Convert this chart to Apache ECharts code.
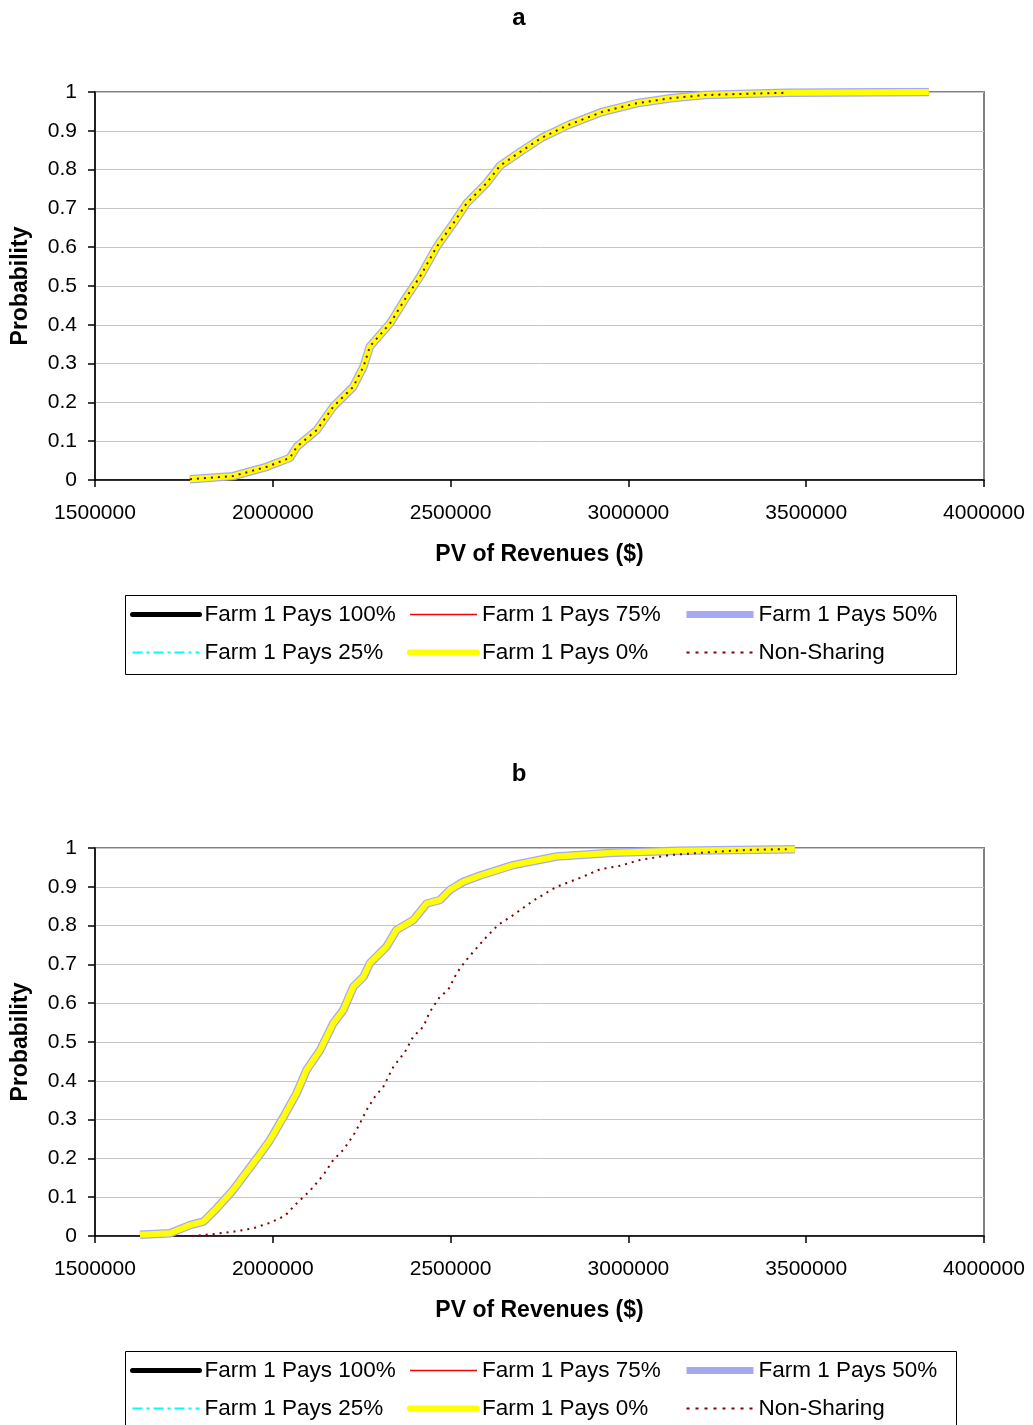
<!DOCTYPE html>
<html>
<head>
<meta charset="utf-8">
<script src="https://cdn.jsdelivr.net/npm/echarts@6/dist/echarts.min.js"></script>
<style>
  html, body { margin: 0; padding: 0; background: #fff; }
  #chart { width: 1033px; height: 1425px; }
</style>
</head>
<body>
<div id="chart"></div>
<script>
// Scenario names (legend order)
const seriesNames = ['Farm 1 Pays 100%', 'Farm 1 Pays 75%', 'Farm 1 Pays 50%',
                     'Farm 1 Pays 25%', 'Farm 1 Pays 0%', 'Non-Sharing'];
const panelTitles = ['a', 'b'];

// Axis ranges
const revenueMin = 1500000, revenueMax = 4000000, revenueStep = 500000;
const probMin = 0, probMax = 1, probStep = 0.1;

// Panel a: cumulative distribution of PV of revenues (sharing scenarios)
const sharingRevA = [1767000, 1888000, 1983000, 2048000, 2068000, 2124000, 2170000, 2226000,
  2255000, 2273000, 2330000, 2376000, 2414000, 2461000, 2508000, 2545000, 2601000, 2639000,
  2696500, 2754000, 2831000, 2927000, 3023000, 3119000, 3215000, 3311000, 3446000, 3845000];
const sharingProbA = [0.002, 0.010, 0.034, 0.057, 0.086, 0.129, 0.189, 0.240,
  0.292, 0.344, 0.404, 0.472, 0.524, 0.601, 0.662, 0.713, 0.765, 0.810,
  0.846, 0.881, 0.915, 0.949, 0.971, 0.984, 0.992, 0.995, 0.998, 1.000];

// Panel a: non-sharing
const nonSharingRevA = [1767000, 1888000, 1983000, 2048000, 2068000, 2124000, 2170000, 2226000,
  2255000, 2273000, 2330000, 2376000, 2414000, 2461000, 2508000, 2545000, 2601000, 2639000,
  2696500, 2754000, 2831000, 2927000, 3023000, 3119000, 3215000, 3311000, 3446000];
const nonSharingProbA = [0.002, 0.010, 0.034, 0.057, 0.086, 0.129, 0.189, 0.240,
  0.292, 0.344, 0.404, 0.472, 0.524, 0.601, 0.662, 0.713, 0.765, 0.810,
  0.846, 0.881, 0.915, 0.949, 0.971, 0.984, 0.992, 0.995, 0.998];

// Panel b: sharing scenarios
const sharingRevB = [1626500, 1711000, 1767000, 1805000, 1842000, 1889000, 1955000, 1992000,
  2030000, 2067000, 2095000, 2133000, 2170000, 2198000, 2227000, 2255000, 2273000, 2320000,
  2348000, 2395000, 2433000, 2470000, 2498000, 2536000, 2583000, 2676000, 2798000, 2958000,
  3145000, 3468000];
const sharingProbB = [0.003, 0.007, 0.028, 0.037, 0.071, 0.119, 0.200, 0.247,
  0.307, 0.368, 0.428, 0.479, 0.548, 0.582, 0.643, 0.668, 0.703, 0.746,
  0.789, 0.814, 0.857, 0.866, 0.892, 0.913, 0.929, 0.956, 0.978, 0.988,
  0.993, 0.997];

// Panel b: non-sharing
const nonSharingRevB = [1772000, 1833000, 1889000, 1945000, 1992000, 2034000, 2067000, 2105000,
  2142000, 2170000, 2198000, 2227000, 2245000, 2264000, 2287000, 2311000, 2339000, 2372000,
  2395000, 2423000, 2442000, 2470000, 2493000, 2517000, 2540000, 2573000, 2601000, 2634000,
  2676000, 2732000, 2798000, 2864000, 2920000, 2976000, 3032000, 3117000, 3239000, 3333000,
  3445000];
const nonSharingProbB = [0.000, 0.005, 0.011, 0.020, 0.034, 0.052, 0.084, 0.117,
  0.157, 0.196, 0.222, 0.260, 0.290, 0.325, 0.359, 0.385, 0.436, 0.475,
  0.514, 0.539, 0.578, 0.617, 0.634, 0.677, 0.707, 0.742, 0.771, 0.802,
  0.827, 0.864, 0.900, 0.923, 0.945, 0.954, 0.969, 0.982, 0.990, 0.995,
  0.997];

const panels = [
  { sharing: [sharingRevA, sharingProbA], nonSharing: [nonSharingRevA, nonSharingProbA] },
  { sharing: [sharingRevB, sharingProbB], nonSharing: [nonSharingRevB, nonSharingProbB] }
];

const FONT = "'Liberation Sans', Arial, sans-serif";
const PANEL_OFFSET = 756;

// Line appearance per scenario, in drawing order
const lineStyles = [
  { color: '#000000', width: 4.5, type: 'solid' },
  { color: '#ff0000', width: 1.5, type: 'solid' },
  { color: '#a8a8f2', width: 8.5, type: 'solid' },
  { color: '#00ffff', width: 1.5, type: [9, 3, 2, 3] },
  { color: '#ffff00', width: 6, type: 'solid' },
  { color: '#800000', width: 2, type: [2, 5] }
];
// Legend swatch strokes
const legendStrokes = [
  { color: '#000000', width: 5, type: 'solid', cap: 'round' },
  { color: '#ff0000', width: 1.5, type: 'solid' },
  { color: '#a8a8f2', width: 7, type: 'solid' },
  { color: '#00ffff', width: 2, type: [10, 4, 3, 4] },
  { color: '#ffff00', width: 6, type: 'solid', cap: 'round' },
  { color: '#800000', width: 2, type: [3, 6] }
];

function pairs(xs, ys) { return xs.map((x, i) => [x, ys[i]]); }

const grids = [], xAxes = [], yAxes = [], series = [], titles = [], legends = [], graphics = [];

panels.forEach((p, k) => {
  const off = k * PANEL_OFFSET;
  grids.push({
    left: 95, top: 92 + off, width: 889, height: 388,
    show: true, borderColor: '#808080', borderWidth: 2, backgroundColor: '#fff'
  });
  xAxes.push({
    gridIndex: k, type: 'value', min: revenueMin, max: revenueMax, interval: revenueStep,
    name: 'PV of Revenues ($)', nameLocation: 'middle', nameGap: 63,
    nameTextStyle: { fontFamily: FONT, fontSize: 23, fontWeight: 'bold', color: '#000' },
    axisLine: { show: true, lineStyle: { color: '#000', width: 1.5 } },
    axisTick: { show: true, inside: false, length: 7, lineStyle: { color: '#000', width: 1.5 } },
    axisLabel: { fontFamily: FONT, fontSize: 21, color: '#000', margin: 23,
                 formatter: v => String(v) },
    splitLine: { show: false }
  });
  yAxes.push({
    gridIndex: k, type: 'value', min: probMin, max: probMax, interval: probStep,
    name: 'Probability', nameLocation: 'middle', nameGap: 63,
    nameTextStyle: { fontFamily: FONT, fontSize: 23, fontWeight: 'bold', color: '#000' },
    axisLine: { show: true, lineStyle: { color: '#000', width: 1.5 } },
    axisTick: { show: true, inside: false, length: 7, lineStyle: { color: '#000', width: 1.5 } },
    axisLabel: { fontFamily: FONT, fontSize: 21, color: '#000', margin: 18,
                 formatter: v => String(Math.round(v * 10) / 10) },
    splitLine: { show: true, lineStyle: { color: '#c4c4c4', width: 1 } }
  });
  seriesNames.forEach((name, i) => {
    const src = i === 5 ? p.nonSharing : p.sharing;
    series.push({
      name, type: 'line', xAxisIndex: k, yAxisIndex: k,
      data: pairs(src[0], src[1]),
      symbol: 'none', smooth: false, silent: true, animation: false,
      lineStyle: lineStyles[i], itemStyle: { color: lineStyles[i].color },
      z: 2 + i
    });
  });
  titles.push({
    text: panelTitles[k], left: 514, top: 1 + off, textAlign: 'center',
    textStyle: { fontFamily: FONT, fontSize: 24, fontWeight: 'bold', color: '#000' }
  });
  // three legend columns, two rows each
  const colLeft = [130, 407, 683];
  for (let c = 0; c < 3; c++) {
    legends.push({
      orient: 'vertical', left: colLeft[c], top: 603 + off, padding: 0,
      itemWidth: 67, itemHeight: 14, itemGap: 15,
      data: [c, c + 3].map(j => ({ name: seriesNames[j], lineStyle: legendStrokes[j] })),
      itemStyle: { opacity: 0 },
      textStyle: { fontFamily: FONT, fontSize: 22.5, color: '#000', lineHeight: 22 },
      selectedMode: false
    });
  }
  graphics.push({
    type: 'rect', left: 123, top: 593 + off, silent: true,
    shape: { width: 831, height: 79 },
    style: { fill: 'none', stroke: '#000', lineWidth: 1 }
  });
});

const chart = echarts.init(document.getElementById('chart'), null, { renderer: 'canvas' });
chart.setOption({
  animation: false,
  backgroundColor: '#fff',
  title: titles,
  grid: grids,
  xAxis: xAxes,
  yAxis: yAxes,
  legend: legends,
  graphic: graphics,
  series
});
</script>
</body>
</html>
